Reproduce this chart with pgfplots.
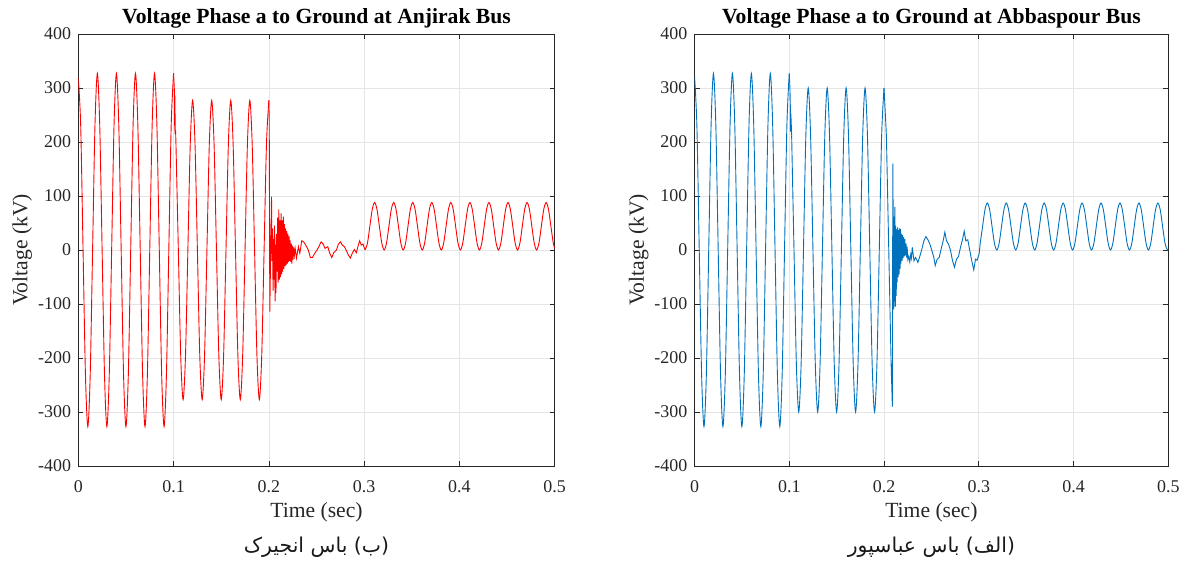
\documentclass[border=0pt]{standalone}
\usepackage{pgfplots}
\pgfplotsset{compat=1.18}
\usepackage{fontspec}
\setmainfont{Liberation Serif}
\newfontfamily\arabicfont[Script=Arabic]{DejaVu Sans}
\TeXXeTstate=1
\definecolor{mred}{rgb}{1,0,0}
\definecolor{mblue}{rgb}{0,0.447,0.741}
\pgfplotsset{
 vstyle/.style={
  scale only axis, height=432bp,
  xmin=0, xmax=0.5, ymin=-400, ymax=400,
  xtick={0,0.1,0.2,0.3,0.4,0.5}, xticklabels={0,0.1,0.2,0.3,0.4,0.5},
  ytick={-400,-300,-200,-100,0,100,200,300,400},
  yticklabels={-400,-300,-200,-100,0,100,200,300,400},
  grid=major, major grid style={draw=black!10, line width=0.7bp},
  axis line style={draw=black!85, line width=0.7bp},
  tick align=inside, major tick length=5bp,
  every tick/.style={draw=black!85, line width=0.6bp},
  tick label style={font=\fontsize{18}{20}\selectfont, text=black!85, inner sep=0pt},
  xticklabel style={anchor=base, yshift=-27bp},
  yticklabel style={anchor=east, xshift=-7bp},
  title style={font=\bfseries\fontsize{21.7}{24}\selectfont, at={(axis description cs:0.5,1)}, anchor=base, yshift=5bp},
  xlabel={Time (sec)}, ylabel={Voltage (kV)},
  xlabel style={font=\fontsize{21.7}{24}\selectfont, text=black!85, at={(axis description cs:0.5,0)}, anchor=base, yshift=-51bp},
  ylabel style={font=\fontsize{21.7}{24}\selectfont, text=black!85, at={(axis description cs:-0.107,0.5)}, anchor=base},
 }
}
\begin{document}
\begin{tikzpicture}
\path[use as bounding box] (0,0) rectangle (1187bp,561bp);
% ---------------- left: Anjirak ----------------
\begin{axis}[vstyle, at={(78.3bp,95bp)}, anchor=south west, width=476.4bp,
  title={Voltage Phase a to Ground at Anjirak Bus}]
\addplot[mred, line width=0.9bp, smooth] coordinates {
(0,318) (0.0025,231) (0.005,0) (0.0075,-231) (0.01,-327) (0.0125,-231) (0.015,0) (0.0175,231)
(0.02,327) (0.0225,231) (0.025,0) (0.0275,-231) (0.03,-327) (0.0325,-231) (0.035,0) (0.0375,231)
(0.04,327) (0.0425,231) (0.045,0) (0.0475,-231) (0.05,-327) (0.0525,-231) (0.055,0) (0.0575,231)
(0.06,327) (0.0625,231) (0.065,0) (0.0675,-231) (0.07,-327) (0.0725,-231) (0.075,0) (0.0775,231)
(0.08,327) (0.0825,231) (0.085,0) (0.0875,-231) (0.09,-327) (0.0925,-231) (0.095,0) (0.0975,231)
(0.1,327)};
\addplot[mred, line width=0.9bp] coordinates {
(0.1,327) (0.1006,305) (0.101,290) (0.1012,222) (0.1014,286) (0.1017,215) (0.1021,222) (0.1025,196)};
\addplot[mred, line width=0.9bp, smooth] coordinates {
(0.1025,196) (0.105,0) (0.1075,-196) (0.11,-277) (0.1125,-196) (0.115,0) (0.1175,196)
(0.12,277) (0.1225,196) (0.125,0) (0.1275,-196) (0.13,-277) (0.1325,-196) (0.135,0) (0.1375,196)
(0.14,277) (0.1425,196) (0.145,0) (0.1475,-196) (0.15,-277) (0.1525,-196) (0.155,0) (0.1575,196)
(0.16,277) (0.1625,196) (0.165,0) (0.1675,-196) (0.17,-277) (0.1725,-196) (0.175,0) (0.1775,196)
(0.18,277) (0.1825,196) (0.185,0) (0.1875,-196) (0.19,-277) (0.1925,-196) (0.195,0) (0.1975,196)
(0.2,277)};
\addplot[mred, line width=0.9bp] coordinates {
(0.2,277) (0.2004,240) (0.201,-114) (0.2028,99) (0.2033,-20) (0.2038,40) (0.2044,-75) (0.2049,20)
(0.2054,-55) (0.2059,45) (0.2065,-95) (0.207,10) (0.2075,-80) (0.208,30) (0.2086,-40) (0.2092,60)
(0.2098,-60) (0.2104,75) (0.211,-55) (0.2116,55) (0.2122,-50) (0.2128,68) (0.2134,-45) (0.214,55)
(0.2146,-40) (0.2152,62) (0.2158,-35) (0.2164,48) (0.217,-30) (0.2176,40) (0.2182,-28) (0.2188,35)
(0.2194,-25) (0.22,30) (0.2206,-22) (0.2212,25) (0.2218,-20) (0.2224,18) (0.223,-22) (0.2236,12)
(0.2242,-25) (0.2248,8) (0.2254,-18) (0.226,5) (0.2268,-10) (0.2276,3) (0.229,-15) (0.231,6)
(0.2325,-6) (0.2345,17) (0.2366,15) (0.2387,9) (0.2412,1) (0.2436,-14) (0.2457,-14) (0.2482,-6)
(0.2506,0) (0.2527,7) (0.2548,15) (0.257,11) (0.259,3) (0.2618,6) (0.2639,-6) (0.266,-14)
(0.2681,-5) (0.2709,0) (0.273,11) (0.2751,15) (0.2772,9) (0.2793,6) (0.2813,-1) (0.2834,-9)
(0.2855,-15) (0.2876,-6) (0.2897,1) (0.2918,-5) (0.2939,9) (0.2953,17) (0.297,9) (0.2988,11)
(0.3008,1) (0.301,0)};
\addplot[mred, line width=0.9bp, smooth] coordinates {
(0.301,0) (0.3035,12.9) (0.306,44) (0.3085,75.1) (0.311,88) (0.3135,75.1) (0.316,44) (0.3185,12.9)
(0.321,0) (0.3235,12.9) (0.326,44) (0.3285,75.1) (0.331,88) (0.3335,75.1) (0.336,44) (0.3385,12.9)
(0.341,0) (0.3435,12.9) (0.346,44) (0.3485,75.1) (0.351,88) (0.3535,75.1) (0.356,44) (0.3585,12.9)
(0.361,0) (0.3635,12.9) (0.366,44) (0.3685,75.1) (0.371,88) (0.3735,75.1) (0.376,44) (0.3785,12.9)
(0.381,0) (0.3835,12.9) (0.386,44) (0.3885,75.1) (0.391,88) (0.3935,75.1) (0.396,44) (0.3985,12.9)
(0.401,0) (0.4035,12.9) (0.406,44) (0.4085,75.1) (0.411,88) (0.4135,75.1) (0.416,44) (0.4185,12.9)
(0.421,0) (0.4235,12.9) (0.426,44) (0.4285,75.1) (0.431,88) (0.4335,75.1) (0.436,44) (0.4385,12.9)
(0.441,0) (0.4435,12.9) (0.446,44) (0.4485,75.1) (0.451,88) (0.4535,75.1) (0.456,44) (0.4585,12.9)
(0.461,0) (0.4635,12.9) (0.466,44) (0.4685,75.1) (0.471,88) (0.4735,75.1) (0.476,44) (0.4785,12.9)
(0.481,0) (0.4835,12.9) (0.486,44) (0.4885,75.1) (0.491,88) (0.4935,75.1) (0.496,44) (0.4985,12.9)
(0.5,3)};
\end{axis}
% ---------------- right: Abbaspour ----------------
\begin{axis}[vstyle, at={(694.5bp,95bp)}, anchor=south west, width=473.8bp,
  title={Voltage Phase a to Ground at Abbaspour Bus}]
\addplot[mblue, line width=0.9bp, smooth] coordinates {
(0,322) (0.0025,231) (0.005,0) (0.0075,-231) (0.01,-327) (0.0125,-231) (0.015,0) (0.0175,231)
(0.02,327) (0.0225,231) (0.025,0) (0.0275,-231) (0.03,-327) (0.0325,-231) (0.035,0) (0.0375,231)
(0.04,327) (0.0425,231) (0.045,0) (0.0475,-231) (0.05,-327) (0.0525,-231) (0.055,0) (0.0575,231)
(0.06,327) (0.0625,231) (0.065,0) (0.0675,-231) (0.07,-327) (0.0725,-231) (0.075,0) (0.0775,231)
(0.08,327) (0.0825,231) (0.085,0) (0.0875,-231) (0.09,-327) (0.0925,-231) (0.095,0) (0.0975,231)
(0.1,327)};
\addplot[mblue, line width=0.9bp] coordinates {
(0.1,327) (0.1007,300) (0.1011,268) (0.1012,219) (0.1015,255) (0.102,240) (0.1025,212)};
\addplot[mblue, line width=0.9bp, smooth] coordinates {
(0.1025,212) (0.105,0) (0.1075,-212) (0.11,-300) (0.1125,-212) (0.115,0) (0.1175,212)
(0.12,300) (0.1225,212) (0.125,0) (0.1275,-212) (0.13,-300) (0.1325,-212) (0.135,0) (0.1375,212)
(0.14,300) (0.1425,212) (0.145,0) (0.1475,-212) (0.15,-300) (0.1525,-212) (0.155,0) (0.1575,212)
(0.16,300) (0.1625,212) (0.165,0) (0.1675,-212) (0.17,-300) (0.1725,-212) (0.175,0) (0.1775,212)
(0.18,300) (0.1825,212) (0.185,0) (0.1875,-212) (0.19,-300) (0.1925,-212) (0.195,0) (0.1975,212)
(0.2,300)};
\addplot[mblue, line width=0.9bp] coordinates {
(0.2,300) (0.2025,212) (0.205,0) (0.2075,-212) (0.2088,-290) (0.2093,160) (0.2099,-20) (0.2103,-110)
(0.2107,62) (0.2111,-95) (0.2115,80) (0.2119,-105) (0.2124,45) (0.2129,-85) (0.2134,38) (0.2139,-60)
(0.2144,42) (0.2149,-50) (0.2154,37) (0.2159,-45) (0.2164,40) (0.2169,-35) (0.2174,39) (0.2179,-25)
(0.2184,30) (0.219,-20) (0.2196,28) (0.2202,-15) (0.2208,24) (0.2214,-12) (0.222,20) (0.2226,-10)
(0.2232,12) (0.2238,-14) (0.2244,6) (0.2252,-18) (0.2262,-12) (0.2272,-22) (0.2282,-8) (0.229,-15)
(0.2298,5) (0.2316,-20) (0.2333,-14) (0.2358,-23) (0.2379,-11) (0.24,2) (0.2421,17) (0.2442,25)
(0.2463,19) (0.2484,11) (0.2505,-1) (0.2526,-14) (0.254,-29) (0.2561,-17) (0.2582,-14) (0.2603,2)
(0.2624,17) (0.2642,33) (0.2659,17) (0.268,11) (0.2702,-1) (0.2723,-20) (0.2744,-32) (0.2765,-17)
(0.2786,-12) (0.2807,5) (0.2828,19) (0.2846,35) (0.2863,17) (0.2884,19) (0.2905,-1) (0.2926,-20)
(0.2947,-37) (0.2965,-17) (0.2982,-19) (0.3004,-7) (0.3015,12.7)};
\addplot[mblue, line width=0.9bp, smooth] coordinates {
(0.3015,12.7) (0.304,43.5) (0.3065,74.3) (0.309,87) (0.3115,74.3) (0.314,43.5) (0.3165,12.7) (0.319,0)
(0.3215,12.7) (0.324,43.5) (0.3265,74.3) (0.329,87) (0.3315,74.3) (0.334,43.5) (0.3365,12.7) (0.339,0)
(0.3415,12.7) (0.344,43.5) (0.3465,74.3) (0.349,87) (0.3515,74.3) (0.354,43.5) (0.3565,12.7) (0.359,0)
(0.3615,12.7) (0.364,43.5) (0.3665,74.3) (0.369,87) (0.3715,74.3) (0.374,43.5) (0.3765,12.7) (0.379,0)
(0.3815,12.7) (0.384,43.5) (0.3865,74.3) (0.389,87) (0.3915,74.3) (0.394,43.5) (0.3965,12.7) (0.399,0)
(0.4015,12.7) (0.404,43.5) (0.4065,74.3) (0.409,87) (0.4115,74.3) (0.414,43.5) (0.4165,12.7) (0.419,0)
(0.4215,12.7) (0.424,43.5) (0.4265,74.3) (0.429,87) (0.4315,74.3) (0.434,43.5) (0.4365,12.7) (0.439,0)
(0.4415,12.7) (0.444,43.5) (0.4465,74.3) (0.449,87) (0.4515,74.3) (0.454,43.5) (0.4565,12.7) (0.459,0)
(0.4615,12.7) (0.464,43.5) (0.4665,74.3) (0.469,87) (0.4715,74.3) (0.474,43.5) (0.4765,12.7) (0.479,0)
(0.4815,12.7) (0.484,43.5) (0.4865,74.3) (0.489,87) (0.4915,74.3) (0.494,43.5) (0.4965,12.7) (0.499,0)
(0.5,2)};
\end{axis}
\node[font=\arabicfont\fontsize{20.5}{23}\selectfont, text=black!90] at (316.5bp,14bp) {\beginR (ب) باس انجیرک\endR};
\node[font=\arabicfont\fontsize{20.5}{23}\selectfont, text=black!90] at (931.4bp,14bp) {\beginR (الف) باس عباسپور\endR};
\end{tikzpicture}
\end{document}
